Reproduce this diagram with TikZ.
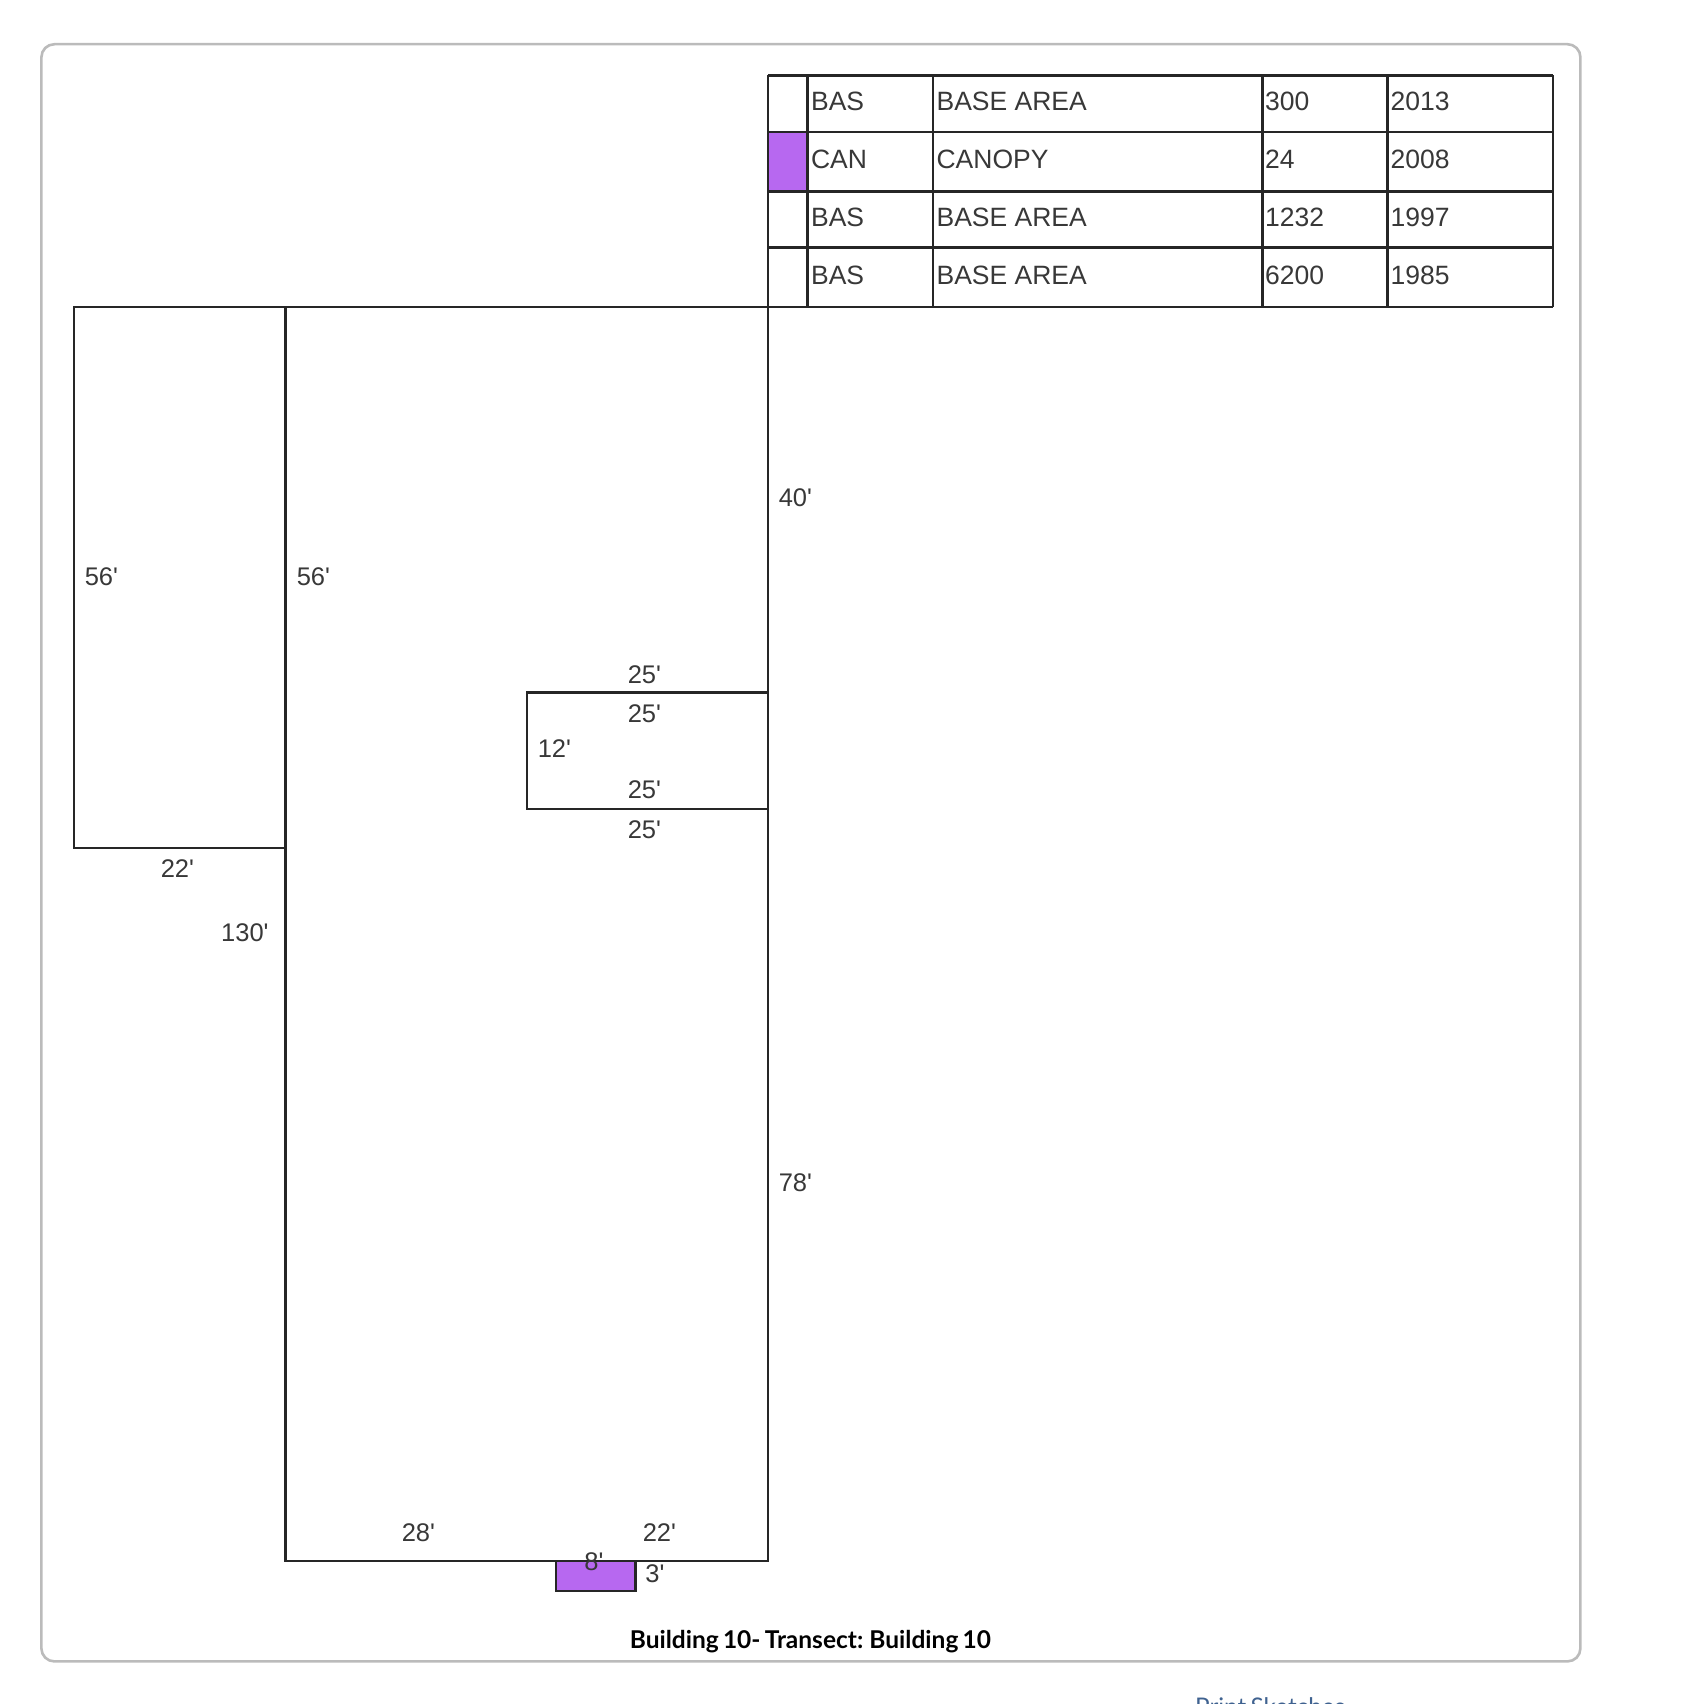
\documentclass[tikz,border=0pt]{standalone}
\usepackage{fontspec}
\setmainfont[Kerning=Off]{Liberation Sans}
\newfontfamily\captionfont{Lato}
\newfontfamily\captiontight[WordSpace=0.7]{Lato}
\newcommand{\ft}{\textquotesingle}
\definecolor{canopy}{HTML}{B768F0}
\definecolor{cardline}{HTML}{BBBBBB}
\definecolor{linkblue}{HTML}{3F6290}
\tikzset{
  sketchline/.style={draw=black!85, line width=2.4pt},
  dimlabel/.style={inner sep=0pt, text=black!78, font=\fontsize{25.5}{25.5}\selectfont},
  celllabel/.style={inner sep=0pt, anchor=west, text=black!78, font=\fontsize{26.5}{26.5}\selectfont},
}
\begin{document}
\begin{tikzpicture}[x=1pt,y=-1pt]
\useasboundingbox (-0.9,-0.4) rectangle (1703.1,1703.6);
\draw[cardline, line width=2.6pt, rounded corners=13pt] (40.5,43.8) rectangle (1579.5,1661);
% table
\fill[canopy] (767,131.7) rectangle (806.7,191);
\foreach \rowy in {75,131.7,191,247.3,306.5}
    \draw[sketchline] (767,\rowy) -- (1551.8,\rowy);
\foreach \colx in {767,806.7,932,1261.7,1386.7,1551.8}
    \draw[sketchline] (\colx,75) -- (\colx,306.5);
\node[celllabel] at (810,101) (T1a) {BAS};
\node[celllabel] at (935.5,101) (T1b) {BASE AREA};
\node[celllabel] at (1264,101) (T1c) {300};
\node[celllabel] at (1389.5,101) (T1d) {2013};
\node[celllabel] at (810,159) (T2a) {CAN};
\node[celllabel] at (935.5,159) (T2b) {CANOPY};
\node[celllabel] at (1264,159) (T2c) {24};
\node[celllabel] at (1389.5,159) (T2d) {2008};
\node[celllabel] at (810,217) (T3a) {BAS};
\node[celllabel] at (935.5,217) (T3b) {BASE AREA};
\node[celllabel] at (1264,217) (T3c) {1232};
\node[celllabel] at (1389.5,217) (T3d) {1997};
\node[celllabel] at (810,275) (T4a) {BAS};
\node[celllabel] at (935.5,275) (T4b) {BASE AREA};
\node[celllabel] at (1264,275) (T4c) {6200};
\node[celllabel] at (1389.5,275) (T4d) {1985};
% building outlines
\draw[sketchline] (72.8,306.5) rectangle (284.7,847.6);
\draw[sketchline] (284.7,306.5) rectangle (767,1560.5);
\draw[sketchline] (526,692.2) rectangle (767,808.5);
\draw[sketchline, fill=canopy] (555.3,1560.5) rectangle (634.6,1590.5);
% dimensions
\node[dimlabel] at (794.5,497) (D40) {40\ft};
\node[dimlabel] at (100.5,576) (D56a) {56\ft};
\node[dimlabel] at (312.5,576) (D56b) {56\ft};
\node[dimlabel] at (643.5,674) (D25a) {25\ft};
\node[dimlabel] at (643.5,713) (D25b) {25\ft};
\node[dimlabel] at (553.5,748) (D12) {12\ft};
\node[dimlabel] at (643.5,789) (D25c) {25\ft};
\node[dimlabel] at (643.5,829) (D25d) {25\ft};
\node[dimlabel] at (176.5,868) (D22a) {22\ft};
\node[dimlabel] at (244,932) (D130) {130\ft};
\node[dimlabel] at (794.5,1182) (D78) {78\ft};
\node[dimlabel] at (417.5,1532) (D28) {28\ft};
\node[dimlabel] at (658.5,1532) (D22b) {22\ft};
\node[dimlabel] at (593,1561) (D8) {8\ft};
\node[dimlabel] at (654,1573) (D3) {3\ft};
% caption
\node[inner sep=0pt, font=\captiontight\bfseries\fontsize{24.5}{24.5}\selectfont] at (809.5,1641) (caption) {Building 10- Transect: Building 10};
\begin{scope}
\clip (0,0) rectangle (1703,1703);
\node[inner sep=0pt, anchor=base west, text=linkblue, font=\captionfont\fontsize{24.3}{24.3}\selectfont] at (1194,1715) (printlink) {Print Sketches};
\end{scope}
\end{tikzpicture}
\end{document}
